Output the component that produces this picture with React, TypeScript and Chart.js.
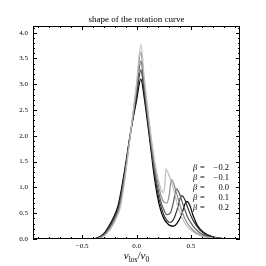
import React, { useEffect, useRef } from "react";
import { Chart, registerables } from "chart.js";
Chart.register(...registerables);

const titleText = "shape of the rotation curve";
const betaLabels = ["−0.2", "−0.1", "0.0", "0.1", "0.2"];
const lineColors = ["#bdbdbd", "#8c8c8c", "#5a5a5a", "#2e2e2e", "#000000"];

const vBetaM02 = [-0.39, -0.35, -0.31, -0.27, -0.23, -0.19, -0.15, -0.12, -0.08, -0.04, 0.0, 0.04, 0.07, 0.10, 0.13, 0.16, 0.19, 0.22, 0.245, 0.26, 0.27, 0.29, 0.33, 0.36, 0.39, 0.43, 0.48, 0.54, 0.60, 0.68, 0.78, 0.92];
const fBetaM02 = [0, 0.01, 0.04, 0.11, 0.22, 0.38, 0.6, 0.95, 1.6, 2.3, 3.0, 3.77, 3.15, 2.6, 2.05, 1.6, 1.25, 1.0, 0.9, 1.05, 1.36, 1.28, 1.05, 0.8, 0.56, 0.36, 0.21, 0.11, 0.05, 0.02, 0.005, 0];

const vBetaM01 = [-0.395, -0.355, -0.315, -0.275, -0.235, -0.195, -0.155, -0.125, -0.085, -0.045, 0.0, 0.04, 0.07, 0.10, 0.13, 0.16, 0.19, 0.22, 0.25, 0.28, 0.30, 0.32, 0.34, 0.38, 0.42, 0.46, 0.52, 0.58, 0.66, 0.76, 0.92];
const fBetaM01 = [0, 0.01, 0.045, 0.115, 0.23, 0.39, 0.61, 0.95, 1.55, 2.22, 2.95, 3.62, 3.05, 2.5, 1.98, 1.52, 1.15, 0.88, 0.72, 0.7, 0.85, 1.15, 1.08, 0.8, 0.52, 0.33, 0.17, 0.08, 0.03, 0.01, 0];

const vBeta00 = [-0.40, -0.36, -0.32, -0.28, -0.24, -0.20, -0.16, -0.13, -0.09, -0.05, 0.0, 0.04, 0.07, 0.10, 0.13, 0.16, 0.19, 0.22, 0.25, 0.28, 0.31, 0.34, 0.365, 0.39, 0.43, 0.47, 0.52, 0.58, 0.66, 0.76, 0.92];
const fBeta00 = [0, 0.012, 0.05, 0.12, 0.24, 0.40, 0.62, 0.95, 1.5, 2.12, 2.85, 3.45, 2.95, 2.42, 1.9, 1.42, 1.05, 0.76, 0.57, 0.47, 0.5, 0.72, 0.97, 0.9, 0.65, 0.42, 0.25, 0.12, 0.04, 0.01, 0];

const vBetaP01 = [-0.405, -0.365, -0.325, -0.285, -0.245, -0.205, -0.165, -0.135, -0.095, -0.055, 0.0, 0.04, 0.07, 0.10, 0.13, 0.16, 0.19, 0.22, 0.25, 0.28, 0.31, 0.34, 0.37, 0.415, 0.44, 0.48, 0.52, 0.58, 0.66, 0.76, 0.92];
const fBetaP01 = [0, 0.014, 0.052, 0.125, 0.25, 0.41, 0.63, 0.95, 1.47, 2.06, 2.75, 3.28, 2.85, 2.35, 1.85, 1.35, 0.95, 0.66, 0.47, 0.36, 0.32, 0.38, 0.55, 0.84, 0.78, 0.55, 0.36, 0.18, 0.06, 0.015, 0];

const vBetaP02 = [-0.41, -0.37, -0.33, -0.29, -0.25, -0.21, -0.17, -0.14, -0.10, -0.06, 0.0, 0.04, 0.07, 0.10, 0.13, 0.16, 0.19, 0.22, 0.25, 0.28, 0.31, 0.34, 0.37, 0.41, 0.46, 0.49, 0.52, 0.56, 0.62, 0.70, 0.80, 0.92];
const fBetaP02 = [0, 0.015, 0.055, 0.13, 0.26, 0.42, 0.64, 0.95, 1.45, 2.0, 2.68, 3.1, 2.75, 2.28, 1.78, 1.25, 0.85, 0.57, 0.4, 0.31, 0.26, 0.25, 0.3, 0.45, 0.73, 0.65, 0.45, 0.26, 0.12, 0.04, 0.01, 0];

const seriesV = [vBetaM02, vBetaM01, vBeta00, vBetaP01, vBetaP02];
const seriesF = [fBetaM02, fBetaM01, fBeta00, fBetaP01, fBetaP02];

const xMajorTicks = [-0.5, 0.0, 0.5];
const yMajorTicks = [0.0, 0.5, 1.0, 1.5, 2.0, 2.5, 3.0, 3.5, 4.0];

const SERIF = '"Liberation Serif", "DejaVu Serif", serif';

const fmt = (v: number) => {
  const s = Math.abs(v).toFixed(1);
  return v < -1e-9 ? "−" + s : s;
};

const decorPlugin = {
  id: "decor",
  afterDraw(chart: any) {
    const { ctx, chartArea } = chart;
    const { left, right, top, bottom } = chartArea;
    const xs = chart.scales.x;
    const ys = chart.scales.y;
    ctx.save();
    ctx.strokeStyle = "#000";
    ctx.lineWidth = 1;
    // frame
    ctx.strokeRect(Math.round(left) + 0.5, Math.round(top) + 0.5, Math.round(right - left) - 1, Math.round(bottom - top) - 1);
    // ticks
    ctx.beginPath();
    for (let i = -9; i <= 9; i++) {
      const v = i / 10;
      const major = i % 5 === 0;
      const len = major ? 4 : 2;
      const px = Math.round(xs.getPixelForValue(v)) + 0.5;
      ctx.moveTo(px, bottom);
      ctx.lineTo(px, bottom - len);
      ctx.moveTo(px, top);
      ctx.lineTo(px, top + len);
    }
    for (let i = 0; i <= 41; i++) {
      const v = i / 10;
      if (v > ys.max) break;
      const major = i % 5 === 0;
      const len = major ? 4 : 2;
      const py = Math.round(ys.getPixelForValue(v)) + 0.5;
      ctx.moveTo(left, py);
      ctx.lineTo(left + len, py);
      ctx.moveTo(right, py);
      ctx.lineTo(right - len, py);
    }
    ctx.stroke();

    ctx.fillStyle = "#000";
    // title
    ctx.font = `9px ${SERIF}`;
    ctx.textAlign = "center";
    ctx.textBaseline = "alphabetic";
    ctx.fillText(titleText, (left + right) / 2, 22);

    // x label: v_los / v_0
    const big = `italic 11px ${SERIF}`;
    const bigUp = `11px ${SERIF}`;
    const small = `7.5px ${SERIF}`;
    const parts: [string, string, number][] = [
      ["v", big, 0],
      ["los", small, 2.5],
      ["/", bigUp, 0],
      ["v", big, 0],
      ["0", small, 2.5],
    ];
    let total = 0;
    const widths = parts.map(([t, f]) => {
      ctx.font = f;
      const w = ctx.measureText(t).width;
      total += w;
      return w;
    });
    let cx = (left + right) / 2 - total / 2;
    ctx.textAlign = "left";
    const base = 259;
    parts.forEach(([t, f, dy], i) => {
      ctx.font = f;
      ctx.fillText(t, cx, base + dy);
      cx += widths[i];
    });

    // legend
    ctx.textBaseline = "middle";
    betaLabels.forEach((lab, i) => {
      const yy = 168 + i * 10;
      ctx.textAlign = "left";
      ctx.font = `italic 8.5px ${SERIF}`;
      ctx.fillText("β", 193, yy);
      ctx.font = `8.5px ${SERIF}`;
      ctx.fillText("=", 200, yy);
      ctx.textAlign = "right";
      ctx.fillText(lab, 229, yy);
    });
    ctx.restore();
  },
};

export default function App() {
  const ref = useRef<HTMLCanvasElement | null>(null);
  useEffect(() => {
    if (!ref.current) return;
    const datasets = seriesV.map((vs, k) => ({
      label: "β = " + betaLabels[k],
      data: vs.map((v, i) => ({ x: v, y: seriesF[k][i] })),
      borderColor: lineColors[k],
      backgroundColor: lineColors[k],
      borderWidth: 1.2,
      pointRadius: 0,
      fill: false,
      cubicInterpolationMode: "monotone" as const,
    }));
    const chart = new Chart(ref.current, {
      type: "line",
      data: { datasets },
      options: {
        animation: false,
        responsive: false,
        layout: { padding: { top: 26, right: 26, left: 0, bottom: 0 } },
        plugins: {
          legend: { display: false },
          title: { display: false },
          tooltip: { enabled: false },
        },
        scales: {
          x: {
            type: "linear",
            min: -0.95,
            max: 0.95,
            grid: { display: false, drawTicks: false },
            border: { display: false },
            afterBuildTicks: (s: any) => {
              s.ticks = xMajorTicks.map((v) => ({ value: v }));
            },
            afterFit: (s: any) => {
              s.height = 27;
            },
            ticks: {
              font: { family: SERIF, size: 7 },
              color: "#000",
              padding: 3,
              maxRotation: 0,
              autoSkip: false,
              callback: (v: any) => fmt(Number(v)),
            },
          },
          y: {
            type: "linear",
            min: 0,
            max: 4.13,
            grid: { display: false, drawTicks: false },
            border: { display: false },
            afterBuildTicks: (s: any) => {
              s.ticks = yMajorTicks.map((v) => ({ value: v }));
            },
            afterFit: (s: any) => {
              s.width = 33;
            },
            ticks: {
              font: { family: SERIF, size: 7 },
              color: "#000",
              padding: 5,
              autoSkip: false,
              callback: (v: any) => fmt(Number(v)),
            },
          },
        },
      },
      plugins: [decorPlugin],
    });
    return () => chart.destroy();
  }, []);
  return (
    <div style={{ position: "absolute", left: 0, top: 0, width: 266, height: 266, background: "#fff" }}>
      <canvas ref={ref} width={266} height={266} style={{ display: "block" }} />
    </div>
  );
}
